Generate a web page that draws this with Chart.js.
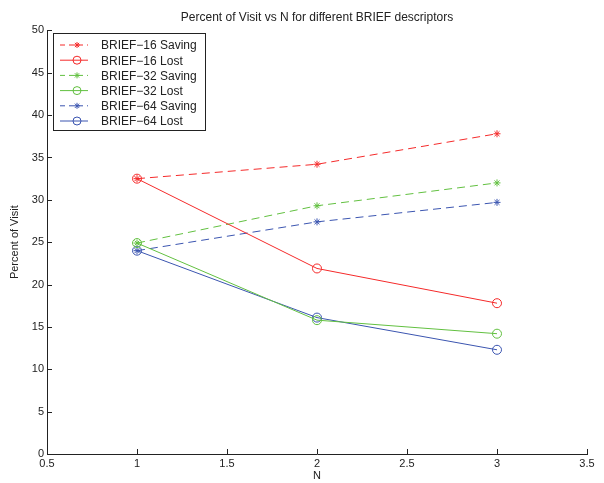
<!DOCTYPE html>
<html>
<head>
<meta charset="utf-8">
<script src="https://cdn.jsdelivr.net/npm/chart.js@4"></script>
<style>
  html, body { margin: 0; padding: 0; background: #fff; }
  #wrap { width: 604px; height: 483px; }
</style>
</head>
<body>
<div id="wrap"><canvas id="plot"></canvas></div>
<script>
///// données
let nValues = [1, 2, 3];
let brief16Saving = [32.5, 34.2, 37.8];
let brief16Lost = [32.5, 21.9, 17.8];
let brief32Saving = [24.9, 29.3, 32.0];
let brief32Lost = [24.9, 15.8, 14.2];
let brief64Saving = [24.0, 27.4, 29.7];
let brief64Lost = [24.0, 16.1, 12.3];
let xTicks = [0.5, 1, 1.5, 2, 2.5, 3, 3.5];
let yTicks = [0, 5, 10, 15, 20, 25, 30, 35, 40, 45, 50];

let rouge = "#f52a2a";
let vert = "#62c040";
let bleu = "#3b55b0";
let police = "'Liberation Sans', Arial, sans-serif";

function points(ys) {
    return nValues.map((x, i) => ({ x: x, y: ys[i] }));
}

function serie(label, ys, color, saving) {
    return {
        label: label,
        data: points(ys),
        borderColor: color,
        backgroundColor: saving ? color : "rgba(0,0,0,0)",
        borderWidth: 1,
        borderDash: saving ? [8, 5] : [],
        pointStyle: saving ? "star" : "circle",
        pointRadius: saving ? 3.5 : 4.5,
        pointBorderWidth: 1,
        pointBorderColor: color,
        pointBackgroundColor: saving ? color : "rgba(0,0,0,0)",
        tension: 0
    };
}

///// légende dans un cadre + ticks vers l'intérieur
let cadre = {
    id: "cadre",
    afterDraw(chart) {
        let ctx = chart.ctx;
        let sx = chart.scales.x, sy = chart.scales.y;
        let a = chart.chartArea;
        ctx.save();
        ctx.strokeStyle = "#222";
        ctx.lineWidth = 1;
        ctx.beginPath();
        xTicks.forEach(v => {
            let px = Math.round(sx.getPixelForValue(v)) + 0.5;
            ctx.moveTo(px, a.bottom);
            ctx.lineTo(px, a.bottom - 5);
        });
        yTicks.forEach(v => {
            let py = Math.round(sy.getPixelForValue(v)) + 0.5;
            ctx.moveTo(a.left, py);
            ctx.lineTo(a.left + 5, py);
        });
        ctx.stroke();

        // légende
        let bx = 53.5, by = 33.5, bw = 152, bh = 97;
        ctx.fillStyle = "#fff";
        ctx.fillRect(bx, by, bw, bh);
        ctx.strokeStyle = "#222";
        ctx.strokeRect(bx, by, bw, bh);
        ctx.font = "12px " + police;
        ctx.textBaseline = "middle";
        chart.data.datasets.forEach((ds, i) => {
            let y = 45 + i * 15.2;
            ctx.strokeStyle = ds.borderColor;
            ctx.setLineDash(ds.borderDash.length ? [5, 4] : []);
            ctx.beginPath();
            ctx.moveTo(60, y);
            ctx.lineTo(88, y);
            ctx.stroke();
            ctx.setLineDash([]);
            ctx.fillStyle = ds.pointBackgroundColor;
            Chart.helpers.drawPoint(ctx, {
                pointStyle: ds.pointStyle,
                radius: ds.pointRadius - 0.5,
                borderWidth: 1
            }, 77, y);
            ctx.fillStyle = "#222";
            ctx.fillText(ds.label, 101, y + 1);
        });
        ctx.restore();
    }
};

let graph = document.getElementById("plot");
let lineChart = new Chart(graph, {
    type: "line",
    data: {
        datasets: [
            serie("BRIEF\u221216 Saving", brief16Saving, rouge, true),
            serie("BRIEF\u221216 Lost", brief16Lost, rouge, false),
            serie("BRIEF\u221232 Saving", brief32Saving, vert, true),
            serie("BRIEF\u221232 Lost", brief32Lost, vert, false),
            serie("BRIEF\u221264 Saving", brief64Saving, bleu, true),
            serie("BRIEF\u221264 Lost", brief64Lost, bleu, false)
        ]
    },
    options: {
        responsive: true,
        maintainAspectRatio: false,
        animation: false,
        layout: { padding: { left: 0, right: 17, top: 0, bottom: 0 } },
        plugins: {
            legend: { display: false },
            tooltip: { enabled: false },
            title: {
                display: true,
                fullSize: false,
                text: "Percent of Visit vs N for different BRIEF descriptors",
                color: "#222",
                font: { family: police, size: 12, weight: "normal" },
                padding: { top: 10, bottom: 6 }
            }
        },
        scales: {
            x: {
                type: "linear",
                min: 0.5,
                max: 3.5,
                afterBuildTicks: s => { s.ticks = xTicks.map(v => ({ value: v })); },
                afterFit: s => { s.height = 29; },
                grid: { display: false, drawTicks: false },
                border: { display: true, color: "#222", width: 1 },
                ticks: {
                    color: "#222",
                    padding: 3,
                    font: { family: police, size: 11 },
                    callback: v => String(v)
                },
                title: {
                    display: true,
                    text: "N",
                    color: "#222",
                    padding: { top: 0, bottom: 0 },
                    font: { family: police, size: 11 }
                }
            },
            y: {
                min: 0,
                max: 50,
                afterBuildTicks: s => { s.ticks = yTicks.map(v => ({ value: v })); },
                afterFit: s => { s.width = 47; },
                grid: { display: false, drawTicks: false },
                border: { display: true, color: "#222", width: 1 },
                ticks: {
                    color: "#222",
                    padding: 3,
                    font: { family: police, size: 11 },
                    callback: v => String(v)
                },
                title: {
                    display: true,
                    text: "Percent of Visit",
                    color: "#222",
                    padding: { top: 8, bottom: 0 },
                    font: { family: police, size: 11 }
                }
            }
        }
    },
    plugins: [cadre]
});
</script>
</body>
</html>
